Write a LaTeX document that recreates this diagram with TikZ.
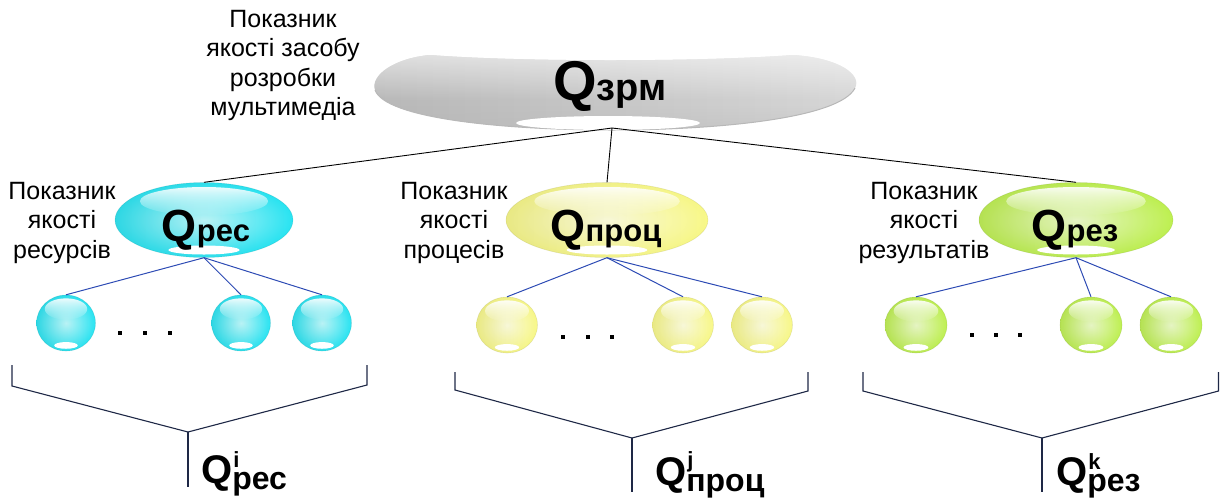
\documentclass[tikz,border=0pt]{standalone}
\usepackage{fontspec}
\setmainfont{Liberation Sans}
\usetikzlibrary{shapes.geometric,fadings}
\definecolor{cyB}{RGB}{40,228,242}
\definecolor{cyL}{RGB}{190,250,253}
\definecolor{yeB}{RGB}{248,248,135}
\definecolor{yeL}{RGB}{255,255,222}
\definecolor{grB}{RGB}{190,240,80}
\definecolor{grL}{RGB}{236,252,200}
\definecolor{blueline}{RGB}{45,75,180}
\definecolor{navy}{RGB}{30,40,70}
\newcommand\fs[1]{\fontsize{#1}{#1}\selectfont}
\newcommand\glossy[7]{%
  \node[ellipse, inner sep=0pt, minimum width={2*#4}, minimum height={2*#5},
        shading=radial, inner color=#7, outer color=#6] (#1) at (#2,#3) {};
  \fill[black!60, opacity=.1, path fading=east] (#2,#3) ellipse [x radius=#4, y radius=#5];
  \fill[white, opacity=.9, path fading=south] (#2,{#3-0.5*#5}) ellipse [x radius={0.72*#4}, y radius={0.38*#5}];
  \fill[white] (#2,{#3+0.8*#5}) ellipse [x radius={0.4*#4}, y radius={0.12*#5}];
  \draw[#6!60!black, opacity=.2, line width=.6pt] (#2,#3) ellipse [x radius=#4, y radius=#5];
}
\tikzset{
  desc/.style={align=center, inner sep=0pt, anchor=north, font=\fontsize{25}{29.5}\selectfont},
  topline/.style={black, line width=0.9pt},
  subline/.style={blueline, line width=1pt},
  brk/.style={navy, line width=1.1pt},
  qtext/.style={inner sep=0pt, font=\bfseries},
  dotsq/.style={fill=black},
}
\begin{document}
\begin{tikzpicture}[x=1pt,y=-1pt]
\useasboundingbox (0,0) rectangle (1220,499);
% top disk
\def\diskpath{(430,55) .. controls (520,62) and (700,62) .. (793,55)
  .. controls (840,58) and (862,75) .. (855,88)
  .. controls (840,118) and (720,130) .. (612,130)
  .. controls (500,130) and (385,118) .. (375,90)
  .. controls (370,75) and (395,58) .. (430,55) -- cycle}
\shade[left color=black!28, middle color=white, right color=black!16] \diskpath;
\begin{scope}
\clip \diskpath;
\fill[white, opacity=.6, path fading=south] (370,52) rectangle (860,100);
\fill[black!30, opacity=.3, path fading=north] (370,105) rectangle (860,132);
\end{scope}
\draw[black!28, line width=1pt] (855,88) .. controls (840,118) and (720,130) .. (612,130)
  .. controls (500,130) and (385,118) .. (375,90);
\fill[white] (608,123) ellipse [x radius=92, y radius=7];
\coordinate (zrmb) at (612,128);
\node[qtext, anchor=base] (zrm) at (610,100) {\fs{56}Q\fs{38}зрм};
\node[desc] (dtop) at (283,10) {Показник\\якості засобу\\розробки\\мультимедіа};

% second level
\glossy{res}{204}{220}{89}{37.5}{cyB}{cyL}
\glossy{proc}{607}{220}{101}{37.5}{yeB}{yeL}
\glossy{rez}{1076}{220}{97}{37.5}{grB}{grL}
\node[qtext, anchor=base] (tres) at (206,241) {\fs{45}Q\fs{31}рес};
\node[qtext, anchor=base] (tproc) at (606,241) {\fs{45}Q\fs{31}проц};
\node[qtext, anchor=base] (trez) at (1075,241) {\fs{45}Q\fs{31}рез};
\node[desc] (dres) at (62,182) {Показник\\якості\\ресурсів};
\node[desc] (dproc) at (454,182) {Показник\\якості\\процесів};
\node[desc] (drez) at (924,182) {Показник\\якості\\результатів};

\draw[topline] (zrmb) -- (res.north);
\draw[topline] (zrmb) -- (proc.north);
\draw[topline] (zrmb) -- (rez.north);

% spheres
\glossy{r1}{66}{323}{29.5}{28}{cyB}{cyL}
\glossy{r2}{241}{323}{29.5}{28}{cyB}{cyL}
\glossy{r3}{322}{323}{29.5}{28}{cyB}{cyL}
\glossy{p1}{507}{325}{30.5}{28}{yeB}{yeL}
\glossy{p2}{683}{325}{30.5}{28}{yeB}{yeL}
\glossy{p3}{762}{325}{30.5}{28}{yeB}{yeL}
\glossy{g1}{916}{325}{31}{28}{grB}{grL}
\glossy{g2}{1091}{325}{31}{28}{grB}{grL}
\glossy{g3}{1171}{325}{31}{28}{grB}{grL}

\foreach \a in {r1,r2,r3} \draw[subline] (res.south) -- (\a.north);
\foreach \a in {p1,p2,p3} \draw[subline] (proc.south) -- (\a.north);
\foreach \a in {g1,g2,g3} \draw[subline] (rez.south) -- (\a.north);

% dots
\foreach \x in {120,145,170} \fill[dotsq] (\x-1.6,331.4) rectangle (\x+1.6,334.6);
\foreach \x in {563,588,612} \fill[dotsq] (\x-1.6,335.4) rectangle (\x+1.6,338.6);
\foreach \x in {972,996,1020} \fill[dotsq] (\x-1.6,333.4) rectangle (\x+1.6,336.6);

% brackets
\coordinate (ba) at (188,432);
\coordinate (bb) at (632,438);
\coordinate (bc) at (1042,438);
\draw[brk] (12,365) -- (12,386) -- (ba) -- (367,385) -- (367,365);
\draw[brk] (ba) -- (188,487);
\draw[brk] (455,372) -- (455,390) -- (bb) -- (808,391) -- (808,372);
\draw[brk] (bb) -- (632,492);
\draw[brk] (863,372) -- (863,391) -- (bc) -- (1218.5,391) -- (1218.5,372);
\draw[brk] (bc) -- (1042,492);

\node[qtext, anchor=base west] (qi) at (201,483) {\fs{40}Q\rlap{\kern1pt\raisebox{16pt}{\fs{22}i}}\raisebox{-6pt}{\fs{32}рес}};
\node[qtext, anchor=base west] (qj) at (655,485) {\fs{40}Q\rlap{\kern1pt\raisebox{18pt}{\fs{22}j}}\raisebox{-6pt}{\fs{32}проц}};
\node[qtext, anchor=base west] (qk) at (1056,485) {\fs{40}Q\rlap{\kern1pt\raisebox{16pt}{\fs{22}k}}\raisebox{-6pt}{\fs{32}рез}};
\end{tikzpicture}
\end{document}
